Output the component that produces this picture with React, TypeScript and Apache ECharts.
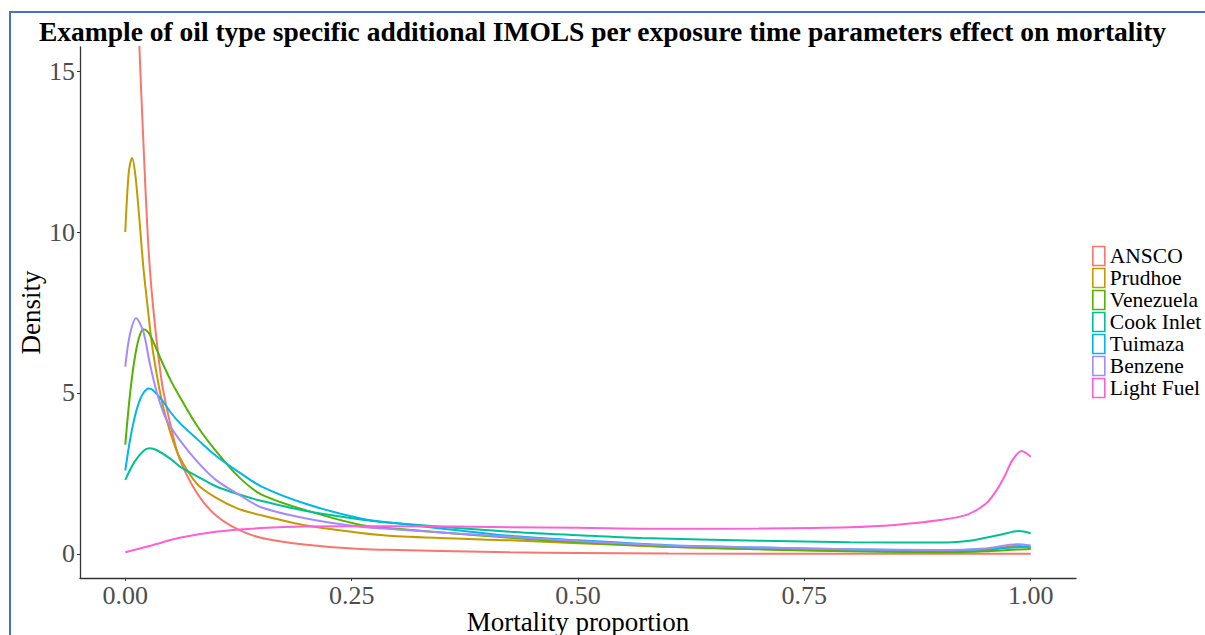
import React, { useEffect, useRef } from "react";
import * as echarts from "echarts";

const seriesNames = ["ANSCO", "Prudhoe", "Venezuela", "Cook Inlet", "Tuimaza", "Benzene", "Light Fuel"];
const seriesColors = ["#F8766D", "#C49A00", "#53B400", "#00C094", "#00B6EB", "#A58AFF", "#FB61D7"];

const xTicks = [0, 0.25, 0.5, 0.75, 1.0];
const yTicks = [0, 5, 10, 15];

const ansco = [
  [0, 30], [0.005, 26], [0.01, 21], [0.015, 16.2], [0.02, 12.8], [0.025, 9.8], [0.03, 7.9],
  [0.04, 5.4], [0.05, 4.0], [0.06, 2.95], [0.08, 1.85], [0.1, 1.2], [0.125, 0.75], [0.15, 0.5],
  [0.2, 0.28], [0.26, 0.15], [0.3, 0.12], [0.425, 0.05], [0.5, 0.03], [0.6, 0.01], [0.8, 0.0],
  [0.9, 0.0], [1.0, 0.0],
];
const prudhoe = [
  [0, 10.0], [0.004, 11.9], [0.0075, 12.3], [0.011, 11.8], [0.015, 10.6], [0.02, 8.9], [0.025, 7.6],
  [0.03, 6.4], [0.04, 4.8], [0.05, 3.75], [0.06, 3.0], [0.08, 2.15], [0.1, 1.75], [0.125, 1.4],
  [0.15, 1.2], [0.2, 0.88], [0.26, 0.65], [0.3, 0.55], [0.425, 0.42], [0.5, 0.33], [0.6, 0.22],
  [0.7, 0.15], [0.8, 0.1], [0.9, 0.07], [0.95, 0.1], [0.985, 0.25], [1.0, 0.2],
];
const venezuela = [
  [0, 3.39], [0.005, 4.9], [0.01, 6.0], [0.015, 6.7], [0.02, 6.98], [0.025, 6.9], [0.03, 6.65],
  [0.04, 6.0], [0.05, 5.4], [0.06, 4.89], [0.08, 3.95], [0.1, 3.2], [0.125, 2.4], [0.15, 1.85],
  [0.2, 1.35], [0.26, 0.9], [0.3, 0.78], [0.425, 0.5], [0.5, 0.36], [0.6, 0.22], [0.7, 0.14],
  [0.8, 0.08], [0.9, 0.05], [0.95, 0.08], [0.98, 0.13], [1.0, 0.15],
];
const cookInlet = [
  [0, 2.3], [0.01, 2.85], [0.02, 3.2], [0.027, 3.28], [0.035, 3.22], [0.05, 2.95], [0.06, 2.72],
  [0.08, 2.4], [0.1, 2.1], [0.125, 1.85], [0.15, 1.65], [0.2, 1.33], [0.26, 1.07], [0.3, 0.95],
  [0.425, 0.69], [0.5, 0.58], [0.57, 0.49], [0.7, 0.41], [0.8, 0.36], [0.9, 0.35], [0.93, 0.4],
  [0.95, 0.5], [0.97, 0.62], [0.987, 0.71], [1.0, 0.64],
];
const tuimaza = [
  [0, 2.59], [0.005, 3.5], [0.01, 4.2], [0.015, 4.7], [0.02, 5.0], [0.026, 5.14], [0.03, 5.1],
  [0.04, 4.8], [0.05, 4.4], [0.06, 4.07], [0.08, 3.55], [0.1, 3.05], [0.125, 2.55], [0.15, 2.1],
  [0.2, 1.55], [0.26, 1.1], [0.3, 0.95], [0.425, 0.56], [0.5, 0.42], [0.6, 0.27], [0.7, 0.2],
  [0.8, 0.14], [0.9, 0.11], [0.95, 0.14], [0.98, 0.2], [1.0, 0.22],
];
const benzene = [
  [0, 5.82], [0.005, 6.8], [0.012, 7.32], [0.02, 6.9], [0.027, 5.93], [0.035, 5.0], [0.045, 4.2],
  [0.06, 3.54], [0.08, 2.85], [0.1, 2.3], [0.125, 1.85], [0.15, 1.45], [0.2, 1.1], [0.26, 0.84],
  [0.3, 0.76], [0.425, 0.53], [0.5, 0.4], [0.6, 0.26], [0.7, 0.2], [0.8, 0.14], [0.9, 0.12],
  [0.95, 0.17], [0.985, 0.3], [1.0, 0.26],
];
const lightFuel = [
  [0, 0.05], [0.03, 0.27], [0.06, 0.5], [0.1, 0.69], [0.15, 0.8], [0.2, 0.85], [0.3, 0.86],
  [0.425, 0.83], [0.5, 0.81], [0.6, 0.78], [0.7, 0.79], [0.8, 0.83], [0.85, 0.9], [0.9, 1.05],
  [0.93, 1.22], [0.95, 1.55], [0.96, 1.88], [0.97, 2.35], [0.98, 2.92], [0.99, 3.2],
  [1.0, 3.02],
];

const seriesData = [ansco, prudhoe, venezuela, cookInlet, tuimaza, benzene, lightFuel];

const FONT = "'Liberation Serif', 'Times New Roman', Times, serif";

export default function App() {
  const ref = useRef<HTMLDivElement>(null);
  useEffect(() => {
    if (!ref.current) return;
    const chart = echarts.init(ref.current, null, { renderer: "svg" });
    chart.setOption({
      animation: false,
      backgroundColor: "#ffffff",
      textStyle: { fontFamily: FONT },
      title: {
        text: "Example of oil type specific additional IMOLS per exposure time parameters effect on mortality",
        left: "center",
        top: 12,
        textStyle: { fontFamily: FONT, fontWeight: "bold", fontSize: 27.5, color: "#000" },
      },
      graphic: [
        {
          type: "rect",
          shape: { x: 10, y: 12, width: 1205, height: 640 },
          style: { fill: "none", stroke: "#4472C4", lineWidth: 2 },
          silent: true,
        },
      ],
      legend: {
        orient: "vertical",
        left: 1092,
        top: 245,
        padding: 0,
        itemWidth: 12,
        itemHeight: 19,
        itemGap: 0,
        textStyle: { fontFamily: FONT, fontSize: 21.5, color: "#000" },
        data: seriesNames.map((n, i) => ({
          name: n,
          icon: "rect",
          itemStyle: { color: "#ffffff", borderColor: seriesColors[i], borderWidth: 1.6 },
        })),
      },
      grid: { left: 80, top: 47, right: 129, bottom: 57, containLabel: false, outerBoundsMode: "none" },
      xAxis: {
        type: "value",
        min: -0.05,
        max: 1.05,
        name: "Mortality proportion",
        nameLocation: "middle",
        nameGap: 30.5,
        nameMoveOverlap: false,
        nameTextStyle: { fontFamily: FONT, fontSize: 27, lineHeight: 27, color: "#000" },
        splitLine: { show: false },
        axisLine: { show: true, onZero: false, lineStyle: { color: "#333", width: 1.3 } },
        axisTick: { show: true, length: 3, customValues: xTicks, lineStyle: { color: "#333" } },
        axisLabel: {
          customValues: xTicks,
          margin: 4,
          fontFamily: FONT,
          fontSize: 26,
          lineHeight: 26,
          color: "#4D4D4D",
          formatter: (v: number) => v.toFixed(2),
        },
      },
      yAxis: {
        type: "value",
        min: -0.75,
        max: 15.75,
        name: "Density",
        nameLocation: "middle",
        nameGap: 36,
        nameMoveOverlap: false,
        nameRotate: 90,
        nameTextStyle: { fontFamily: FONT, fontSize: 27, color: "#000" },
        splitLine: { show: false },
        axisLine: { show: true, onZero: false, lineStyle: { color: "#333", width: 1.3 } },
        axisTick: { show: true, length: 3, customValues: yTicks, lineStyle: { color: "#333" } },
        axisLabel: {
          customValues: yTicks,
          margin: 5,
          fontFamily: FONT,
          fontSize: 26,
          color: "#4D4D4D",
        },
      },
      series: seriesNames.map((n, i) => ({
        name: n,
        type: "line",
        data: seriesData[i],
        showSymbol: false,
        smooth: 0.3,
        clip: true,
        lineStyle: { color: seriesColors[i], width: 2 },
        itemStyle: { color: seriesColors[i] },
      })),
    });
    return () => chart.dispose();
  }, []);
  return <div ref={ref} style={{ position: "fixed", left: 0, top: 0, width: 1205, height: 635 }} />;
}
